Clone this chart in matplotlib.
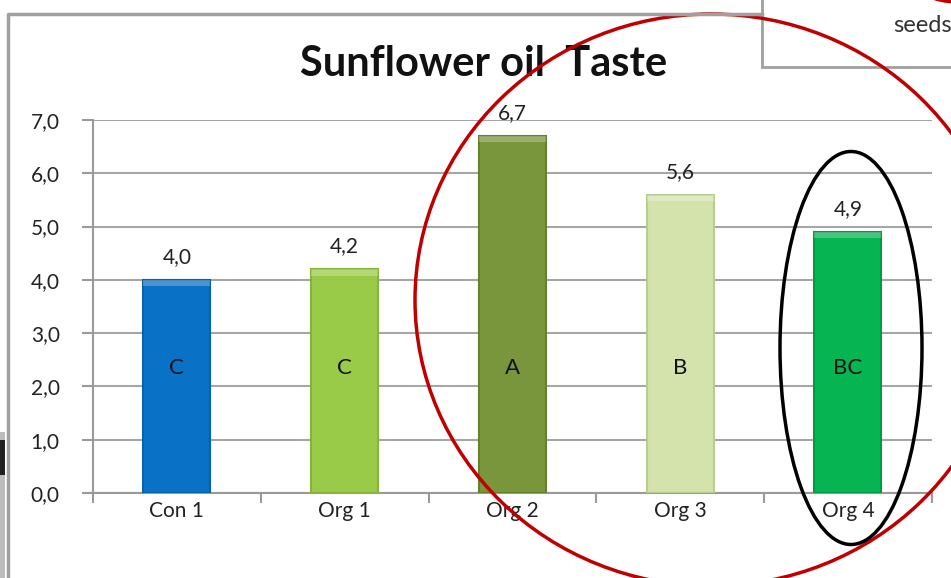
import matplotlib.pyplot as plt
from matplotlib.patches import Ellipse, Rectangle

plt.rcParams['font.family'] = ['Lato', 'DejaVu Sans']

categories = ['Con 1', 'Org 1', 'Org 2', 'Org 3', 'Org 4']
values = [4.0, 4.2, 6.7, 5.6, 4.9]
groups = ['C', 'C', 'A', 'B', 'BC']
colors = ['#0a72c6', '#9acb48', '#7a963c', '#d3e3ab', '#06b551']
edges = ['#0862a8', '#86b43a', '#67802f', '#b9cc92', '#049a44']
y_ticks = [0, 1, 2, 3, 4, 5, 6, 7]


def comma(v):
    return f"{v:.1f}".replace('.', ',')


fig = plt.figure(figsize=(9.51, 5.78), dpi=100)
ax = fig.add_axes([0.0978, 0.147, 0.882, 0.6454])

x = range(len(categories))
ax.bar(x, values, width=0.4, color=colors, edgecolor=edges, linewidth=1.5, zorder=3)
# lighter bevel on top of each bar
for i, v in enumerate(values):
    ax.bar(i, 0.12, bottom=v - 0.12, width=0.4, color='white', alpha=0.25,
           linewidth=0, zorder=4)
    ax.text(i, v + 0.43, comma(v), ha='center', va='center', fontsize=15, color='#222222')
    ax.text(i, 2.35, groups[i], ha='center', va='center', fontsize=16, color='#111111', zorder=5)

ax.set_xlim(-0.5, len(categories) - 0.5)
ax.set_ylim(0, 7)
ax.set_yticks(y_ticks)
ax.set_yticklabels([comma(t) for t in y_ticks], fontsize=15, color='#222222')
ax.set_xticks(x)
ax.set_xticklabels(categories, fontsize=15, color='#222222')
ax.set_xticks([i - 0.5 for i in range(len(categories) + 1)], minor=True)
ax.tick_params(axis='x', which='major', length=0, pad=6)
ax.tick_params(axis='x', which='minor', length=7, color='#9a9a9a', width=1.5)
ax.tick_params(axis='y', length=8, color='#9a9a9a', width=1.5, pad=16)
ax.grid(axis='y', color='#a6a6a6', linewidth=1.5, zorder=0)
for s in ['top', 'right']:
    ax.spines[s].set_visible(False)
for s in ['left', 'bottom']:
    ax.spines[s].set_color('#9a9a9a')
    ax.spines[s].set_linewidth(1.5)

fig.text(0.509, 0.89, 'Sunflower oil  Taste', ha='center', va='center',
         fontsize=30, fontweight='bold', color='#111111')

# overlay in pixel coordinates for the slide decorations
ov = fig.add_axes([0, 0, 1, 1], zorder=10)
ov.set_xlim(0, 951)
ov.set_ylim(578, 0)
ov.axis('off')
ov.patch.set_alpha(0)
ov.plot([8, 8, 762], [578, 14, 14], color='#a0a0a0', linewidth=2.5)
ov.add_patch(Rectangle((762, -5), 200, 72, fill=True, facecolor='white',
                       edgecolor='#a0a0a0', linewidth=2))
ov.text(893, 25, 'seeds', fontsize=17, color='#333333', va='center')
ov.add_patch(Ellipse((958, -22), 90, 48, fill=False, edgecolor='#c00000', linewidth=2.5))
ov.add_patch(Rectangle((0, 432), 5, 146, facecolor='#bdbdbd', edgecolor='none'))
ov.add_patch(Rectangle((0, 440), 5, 35, facecolor='#202020', edgecolor='none'))
ov.add_patch(Ellipse((711, 300), 592, 572, fill=False, edgecolor='#c00000', linewidth=2.5))
ov.add_patch(Ellipse((851, 348), 142, 393, fill=False, edgecolor='#000000', linewidth=2.5))

fig.savefig('out.png', dpi=100)
